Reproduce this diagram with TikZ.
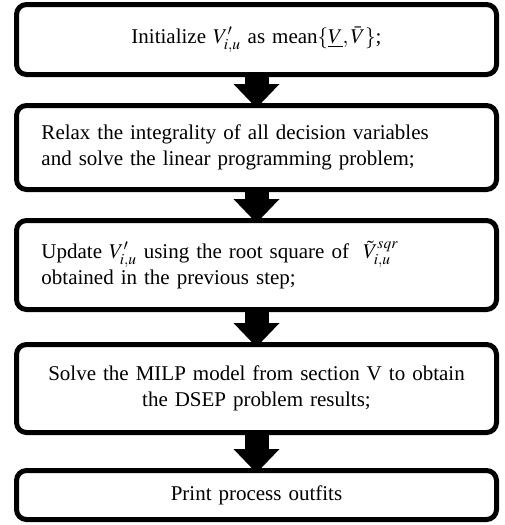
\documentclass[tikz,border=0pt]{standalone}
\usepackage{mathptmx}
\usepackage{fontspec}
\setmainfont{Liberation Serif}
\usetikzlibrary{arrows.meta}

\tikzset{
  stepbox/.style={draw, line width=5pt, rounded corners=10pt, text width=430pt,
    inner xsep=25pt, inner ysep=0pt, font=\fontsize{21}{26}\selectfont},
  flowarrow/.style={line width=24pt, -{Triangle[width=46pt, length=24pt, line width=0pt]},
    shorten <=-2pt, shorten >=-5pt}
}

\begin{document}
\begin{tikzpicture}[x=1pt, y=-1pt]
\useasboundingbox (0,0) rectangle (504,525);
\node[stepbox, align=center, minimum height=70pt] (I) at (256.5,39.5)
  {\raisebox{3pt}{Initialize $V'_{i,u}$ as mean$\{\underline{V},\bar{V}\}$;}};
\node[stepbox, align=left, minimum height=84pt] (R) at (256.5,147.5)
  {Relax the integrality of all decision variables\\and solve the linear programming problem;};
\node[stepbox, align=left, minimum height=89pt] (U) at (256.5,265)
  {Update $V'_{i,u}$ using the root square of \ $\tilde{V}^{sqr}_{i,u}$\\obtained in the previous step;};
\node[stepbox, align=center, minimum height=88pt] (S) at (256.5,388.5)
  {Solve the MILP model from section V to obtain\\the DSEP problem results;};
\node[stepbox, align=center, minimum height=49pt] (P) at (256.5,495)
  {Print process outfits};

\draw[flowarrow] (I) -- (R);
\draw[flowarrow] (R) -- (U);
\draw[flowarrow] (U) -- (S);
\draw[flowarrow] (S) -- (P);
\end{tikzpicture}
\end{document}
